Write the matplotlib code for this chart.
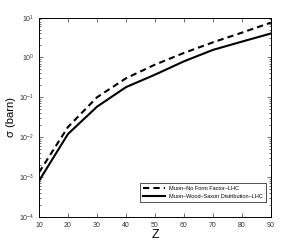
import matplotlib
matplotlib.use("Agg")
import matplotlib.pyplot as plt

plt.rcParams["font.family"] = ["Liberation Sans", "DejaVu Sans"]

# Z values and cross sections (barn)
z = [10, 20, 30, 40, 50, 60, 70, 80, 90]
sigma_no_ff = [1.3e-3, 0.018, 0.10, 0.30, 0.66, 1.3, 2.4, 4.2, 7.5]
sigma_ws = [8.0e-4, 0.012, 0.058, 0.18, 0.37, 0.80, 1.55, 2.5, 4.0]

fig = plt.figure(figsize=(3.0, 2.45), dpi=100)
ax = fig.add_axes([0.13, 0.115, 0.773, 0.813])

ax.plot(z, sigma_no_ff, "k--", lw=1.5, dashes=(3, 2), label="Muon\u2013No Form Factor\u2013LHC")
ax.plot(z, sigma_ws, "k-", lw=1.5, label="Muon\u2013Wood\u2013Saxon Distribution\u2013LHC")

ax.set_yscale("log")
ax.set_xlim(10, 90)
ax.set_ylim(1e-4, 10)
ax.set_xticks(z)
ax.tick_params(which="both", direction="in", top=True, right=True, labelsize=5,
               width=0.5, colors="#333333")
ax.tick_params(which="major", length=3)
ax.tick_params(which="minor", length=1.5)
for s in ax.spines.values():
    s.set_linewidth(0.7)

ax.set_xlabel("Z", fontsize=9, labelpad=0)
ax.set_ylabel("\u03c3 (barn)", fontsize=8, labelpad=2)

leg = ax.legend(loc="lower right", fontsize=4, frameon=True, fancybox=False,
                handlelength=4, borderpad=0.5, labelspacing=0.6,
                bbox_to_anchor=(0.99, 0.06))
leg.get_frame().set_edgecolor("black")
leg.get_frame().set_linewidth(0.6)

fig.savefig("out.png", dpi=100)
